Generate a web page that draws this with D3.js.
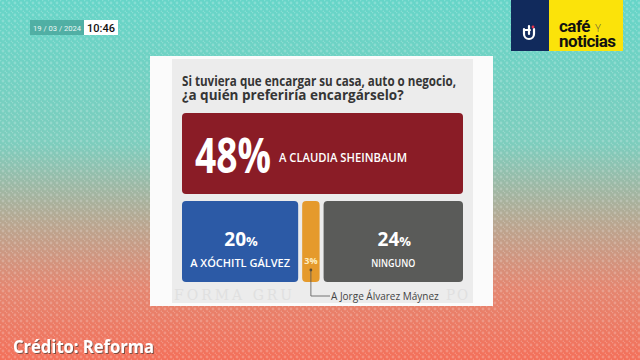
<!DOCTYPE html>
<html>
<head>
<meta charset="utf-8">
<script src="https://cdn.jsdelivr.net/npm/d3@7"></script>
<style>
  html, body { margin: 0; padding: 0; background: #7fcfc0; }
  svg { display: block; }
</style>
</head>
<body>
<div id="chart"></div>
<script>
// poll data
var categories = ["A CLAUDIA SHEINBAUM", "A XÓCHITL GÁLVEZ", "A Jorge Álvarez Máynez", "NINGUNO"];
var values = [48, 20, 3, 24];
var rowOf = [0, 1, 1, 1];
var colors = ["#8a1c26", "#2c5aa6", "#e59a2c", "#5a5b59"];
var titleLines = ["Si tuviera que encargar su casa, auto o negocio,", "¿a quién preferiría encargárselo?"];
var dateText = "19 / 03 / 2024";
var timeText = "10:46";
var creditText = "Crédito: Reforma";

var W = 640, H = 360;
var svg = d3.select("#chart").append("svg")
    .attr("width", W)
    .attr("height", H);

var defs = svg.append("defs");
var grad = defs.append("linearGradient")
    .attr("id", "bg").attr("x1", 0).attr("y1", 0).attr("x2", 0).attr("y2", 1);
[[0, "#66d5c8"], [0.4, "#7dcdbd"], [0.62, "#b8a690"], [0.8, "#e48670"], [1, "#f3705a"]]
    .forEach(function(s){ grad.append("stop").attr("offset", s[0]).attr("stop-color", s[1]); });

var pat = defs.append("pattern")
    .attr("id", "dots").attr("width", 6).attr("height", 6)
    .attr("patternUnits", "userSpaceOnUse");
pat.append("circle").attr("cx", 3).attr("cy", 3).attr("r", 1.4).attr("fill", "#fff").attr("opacity", 0.35);
pat.append("circle").attr("cx", 0).attr("cy", 0).attr("r", 1.4).attr("fill", "#fff").attr("opacity", 0.35);
pat.append("circle").attr("cx", 6).attr("cy", 6).attr("r", 1.4).attr("fill", "#fff").attr("opacity", 0.35);

var shadow = defs.append("filter").attr("id", "shadow");
shadow.append("feDropShadow").attr("dx", 1).attr("dy", 1).attr("stdDeviation", 0.6)
    .attr("flood-color", "#4a3a30").attr("flood-opacity", 0.7);

svg.append("rect").attr("width", W).attr("height", H).attr("fill", "url(#bg)");
svg.append("rect").attr("width", W).attr("height", H).attr("fill", "url(#dots)").attr("opacity", 0.6);

// squeeze text to a width when the installed font runs wider
function fitWidth(sel, w){
    sel.each(function(){
        var len = this.getComputedTextLength();
        if (len > w) d3.select(this).attr("textLength", w).attr("lengthAdjust", "spacingAndGlyphs");
    });
}

// date / time badge
svg.append("rect").attr("x", 30).attr("y", 20).attr("width", 54).attr("height", 15).attr("fill", "#4aa89d").attr("opacity", 0.85);
svg.append("text").attr("x", 57).attr("y", 31).attr("text-anchor", "middle")
    .style("font", "8px 'Liberation Sans Narrow', 'Roboto', sans-serif").attr("fill", "#e8f6f3")
    .text(dateText).call(fitWidth, 48);
svg.append("rect").attr("x", 84).attr("y", 20).attr("width", 34).attr("height", 15).attr("fill", "#fff");
svg.append("text").attr("x", 101).attr("y", 32).attr("text-anchor", "middle")
    .style("font", "500 11px 'Roboto', sans-serif").attr("fill", "#111")
    .text(timeText).call(fitWidth, 28);

// logo
svg.append("rect").attr("x", 511).attr("y", 0).attr("width", 38).attr("height", 51).attr("fill", "#112a5c");
svg.append("rect").attr("x", 549).attr("y", 0).attr("width", 74).attr("height", 51).attr("fill", "#fbe30a");
svg.append("path")
    .attr("d", "M524,29 v5 a5,5 0 0 0 10,0 v-5 M529,26 v8 M524,30 h6")
    .attr("fill", "none").attr("stroke", "#fff").attr("stroke-width", 2.2).attr("stroke-linecap", "round");
svg.append("circle").attr("cx", 533).attr("cy", 27).attr("r", 1.4).attr("fill", "#e4334a");
svg.append("text").attr("x", 559).attr("y", 32)
    .style("font", "bold 17px 'Roboto', sans-serif").attr("fill", "#111").attr("letter-spacing", -0.5)
    .text("café").call(fitWidth, 31);
svg.append("text").attr("x", 595).attr("y", 32)
    .style("font", "300 10px 'Roboto', sans-serif").attr("fill", "#6b6a3a")
    .text("Y");
svg.append("text").attr("x", 559).attr("y", 47)
    .style("font", "bold 17px 'Roboto', sans-serif").attr("fill", "#111").attr("letter-spacing", -0.5)
    .text("noticias").call(fitWidth, 63);

// card
svg.append("rect").attr("x", 150).attr("y", 56).attr("width", 343).attr("height", 250).attr("fill", "#fbfbfb");
svg.append("rect").attr("x", 172).attr("y", 59).attr("width", 301).attr("height", 244).attr("fill", "#ececec");

// faint watermark, split round the callout label
svg.append("text").attr("x", 174).attr("y", 300)
    .style("font", "14px 'DejaVu Serif', serif").attr("fill", "#e0e0e0").attr("letter-spacing", 3)
    .text("FORMA  GRU").call(fitWidth, 128);
svg.append("text").attr("x", 446).attr("y", 300)
    .style("font", "14px 'DejaVu Serif', serif").attr("fill", "#e0e0e0").attr("letter-spacing", 2)
    .text("PO").call(fitWidth, 24);

svg.selectAll("text.title").data(titleLines).enter().append("text")
    .attr("class", "title")
    .attr("x", 182).attr("y", function(d, i){ return 86 + i * 14; })
    .style("font", "bold 13.5px 'Open Sans', sans-serif").attr("fill", "#353535")
    .text(function(d){ return d; })
    .call(fitWidth, 274);

// treemap-like layout: one row per group, widths proportional to share
var left = 182, right = 463, gap = 4;
var y = d3.scaleBand().domain([0, 1]).range([113, 282]).paddingInner(0.08);

var cells = values.map(function(v, i){ return { i: i, v: v, row: rowOf[i] }; });
d3.range(2).forEach(function(r){
    var inRow = cells.filter(function(c){ return c.row === r; });
    var total = d3.sum(inRow, function(c){ return c.v; });
    var x = d3.scaleLinear().domain([0, total]).range([0, right - left - gap * (inRow.length - 1)]);
    var acc = 0;
    inRow.forEach(function(c, k){
        c.x0 = left + x(acc) + gap * k;
        acc += c.v;
        c.x1 = left + x(acc) + gap * k;
        c.y0 = y(r);
        c.y1 = y(r) + y.bandwidth();
    });
});

svg.selectAll("rect.cell").data(cells).enter().append("rect")
    .attr("class", "cell")
    .attr("x", function(d){ return d.x0; })
    .attr("y", function(d){ return d.y0; })
    .attr("width", function(d){ return d.x1 - d.x0; })
    .attr("height", function(d){ return d.y1 - d.y0; })
    .attr("rx", 4)
    .attr("fill", function(d){ return colors[d.i]; });

// big cell label
var big = cells[0];
svg.append("text")
    .attr("x", big.x0 + 13).attr("y", big.y0 + 60)
    .style("font", "bold 49px 'Open Sans', sans-serif").attr("fill", "#fff")
    .text(values[0] + "%")
    .call(fitWidth, 76);
svg.append("text")
    .attr("x", big.x0 + 97).attr("y", big.y0 + 49)
    .style("font", "600 12px 'Open Sans', sans-serif").attr("fill", "#fff")
    .text(categories[0]).call(fitWidth, 128);

// lower wide cells
var wide = cells.filter(function(c){ return c.row === 1 && c.v >= 10; });
wide.forEach(function(c){
    var cx = (c.x0 + c.x1) / 2;
    var t = svg.append("text").attr("x", cx + 1).attr("y", c.y0 + 45).attr("text-anchor", "middle")
        .attr("fill", "#fff").style("font-family", "'Open Sans', sans-serif").style("font-weight", "bold");
    t.append("tspan").style("font-size", "19px").text(c.v);
    t.append("tspan").style("font-size", "13px").text("%");
    svg.append("text").attr("x", cx).attr("y", c.y0 + 66).attr("text-anchor", "middle")
        .style("font", "600 11px 'Open Sans', sans-serif").attr("fill", "#fff")
        .text(categories[c.i]).call(fitWidth, c.v > 22 ? 44 : 102);
});

// thin cell with callout
var thin = cells.filter(function(c){ return c.row === 1 && c.v < 10; })[0];
var tx = (thin.x0 + thin.x1) / 2;
svg.append("text").attr("x", tx).attr("y", thin.y0 + 63).attr("text-anchor", "middle")
    .style("font", "bold 9px 'Open Sans', sans-serif").attr("fill", "#fdeec0")
    .text(thin.v + "%").call(fitWidth, 14);
svg.append("circle").attr("cx", tx).attr("cy", thin.y0 + 69).attr("r", 1.4).attr("fill", "#5a4a30");
svg.append("path")
    .attr("d", "M" + tx + "," + (thin.y0 + 69) + " V296 H330")
    .attr("fill", "none").attr("stroke", "#555").attr("stroke-width", 0.8);
svg.append("text").attr("x", 331).attr("y", 299.5)
    .style("font", "10px 'Open Sans', sans-serif").attr("fill", "#444")
    .text(categories[thin.i]).call(fitWidth, 112);

// credit
svg.append("text").attr("x", 13).attr("y", 353)
    .style("font", "bold 17px 'Open Sans', sans-serif").attr("fill", "#fff")
    .attr("filter", "url(#shadow)")
    .text(creditText).call(fitWidth, 141);
</script>
</body>
</html>
